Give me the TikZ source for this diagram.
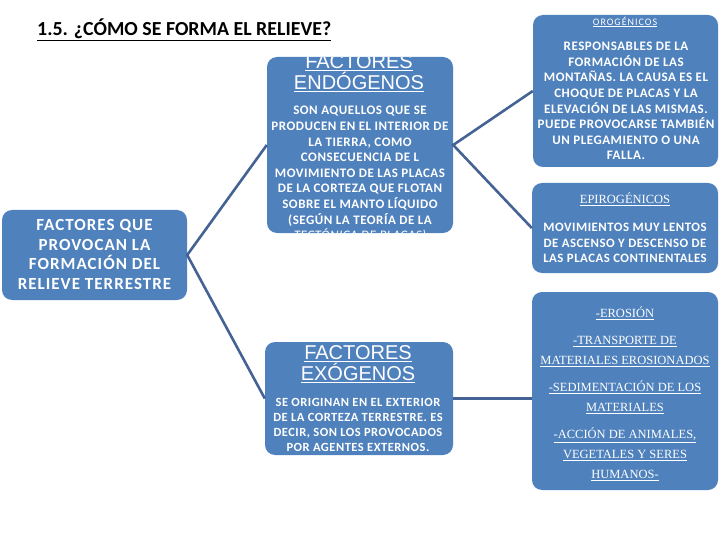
\documentclass[tikz,border=0pt]{standalone}
\usepackage{fontspec}
\setmainfont{Carlito}
\newfontfamily\arialf{Liberation Sans}
\newfontfamily\serf{Liberation Serif}
\newfontfamily\widebf[LetterSpace=6]{Carlito}
\newfontfamily\bodyf[LetterSpace=4]{Carlito}
\newfontfamily\smallsp[LetterSpace=10]{Carlito}
\definecolor{boxblue}{RGB}{79,129,189}
\definecolor{linkblue}{RGB}{68,98,148}
\begin{document}
\begin{tikzpicture}[x=1pt,y=-1pt,
  blk/.style={fill=boxblue, rounded corners=10pt, inner sep=0pt},
  link/.style={draw=linkblue, line width=2.6pt},
  txt/.style={text=white, align=center, inner sep=0pt},
  body/.style={txt, font=\bodyf\fontsize{13}{15.6}\selectfont\bfseries},
  headA/.style={txt, font=\arialf\fontsize{20}{20.5}\selectfont},
  headS/.style={txt, font=\serf\fontsize{12.5}{20}\selectfont}]
\useasboundingbox (0,0) rectangle (720,540);

% title
\node[anchor=west, inner sep=0pt, font=\fontsize{19.9}{22}\selectfont\bfseries] (title) at (37,30) {\underline{1.5. ¿CÓMO SE FORMA EL RELIEVE?}};

% boxes
\node[blk, minimum width=185pt, minimum height=90pt] (L) at (94.5,255) {};
\node[blk, minimum width=186pt, minimum height=176pt] (EN) at (360,145) {};
\node[blk, minimum width=188pt, minimum height=113pt] (EX) at (359,398.5) {};
\node[blk, minimum width=185pt, minimum height=152pt] (OR) at (625.5,91) {};
\node[blk, minimum width=186pt, minimum height=90pt] (EP) at (625,228) {};
\node[blk, minimum width=186pt, minimum height=198pt] (ER) at (625,391) {};

% connectors
\draw[link] (EN.west) -- (L.east) -- (EX.west);
\draw[link] (OR.west) -- (EN.east) -- (EP.west);
\draw[link] (EX.east) -- (EX.east -| ER.west);

% texts
\node[txt, font=\widebf\fontsize{17}{19.5}\selectfont\bfseries] (Lt) at (94.5,254.5)
  {FACTORES QUE\\PROVOCAN LA\\FORMACIÓN DEL\\RELIEVE TERRESTRE};

\begin{scope}
\clip[rounded corners=10pt] (267,57) rectangle (453,233);
\node[headA] (ENh) at (359,73) {\underline{FACTORES}\\\underline{ENDÓGENOS}};
\node[body] (ENt) at (360,174)
  {SON AQUELLOS QUE SE\\PRODUCEN EN EL INTERIOR DE\\LA TIERRA, COMO\\CONSECUENCIA DE L\\MOVIMIENTO DE LAS PLACAS\\DE LA CORTEZA QUE FLOTAN\\SOBRE EL MANTO LÍQUIDO\\(SEGÚN LA TEORÍA DE LA\\{\mdseries\itshape TECTÓNICA DE PLACAS)}};
\end{scope}

\node[headA] (EXh) at (358,364) {\underline{FACTORES}\\\underline{EXÓGENOS}};
\node[body, font=\bodyf\fontsize{12.5}{15.2}\selectfont\bfseries] (EXt) at (358,425)
  {SE ORIGINAN EN EL EXTERIOR\\DE LA CORTEZA TERRESTRE. ES\\DECIR, SON LOS PROVOCADOS\\POR AGENTES EXTERNOS.};

\node[txt, font=\smallsp\fontsize{10}{11}\selectfont] (ORh) at (625,22) {\underline{OROGÉNICOS}};
\node[body] (ORt) at (626,101)
  {RESPONSABLES DE LA\\FORMACIÓN DE LAS\\MONTAÑAS. LA CAUSA ES EL\\CHOQUE DE PLACAS Y LA\\ELEVACIÓN DE LAS MISMAS.\\PUEDE PROVOCARSE TAMBIÉN\\UN PLEGAMIENTO O UNA\\FALLA.};

\node[headS] (EPh) at (625,199) {\underline{EPIROGÉNICOS}};
\node[body, font=\bodyf\fontsize{12.8}{15.5}\selectfont\bfseries] (EPt) at (625,243)
  {MOVIMIENTOS MUY LENTOS\\DE ASCENSO Y DESCENSO DE\\LAS PLACAS CONTINENTALES};

\node[headS] (ERt) at (625,394)
  {\underline{-EROSIÓN}\\[7pt]\underline{-TRANSPORTE DE}\\\underline{MATERIALES EROSIONADOS}\\[7pt]\underline{-SEDIMENTACIÓN DE LOS}\\\underline{MATERIALES}\\[7pt]\underline{-ACCIÓN DE ANIMALES,}\\\underline{VEGETALES Y SERES}\\\underline{HUMANOS-}};
\end{tikzpicture}
\end{document}
